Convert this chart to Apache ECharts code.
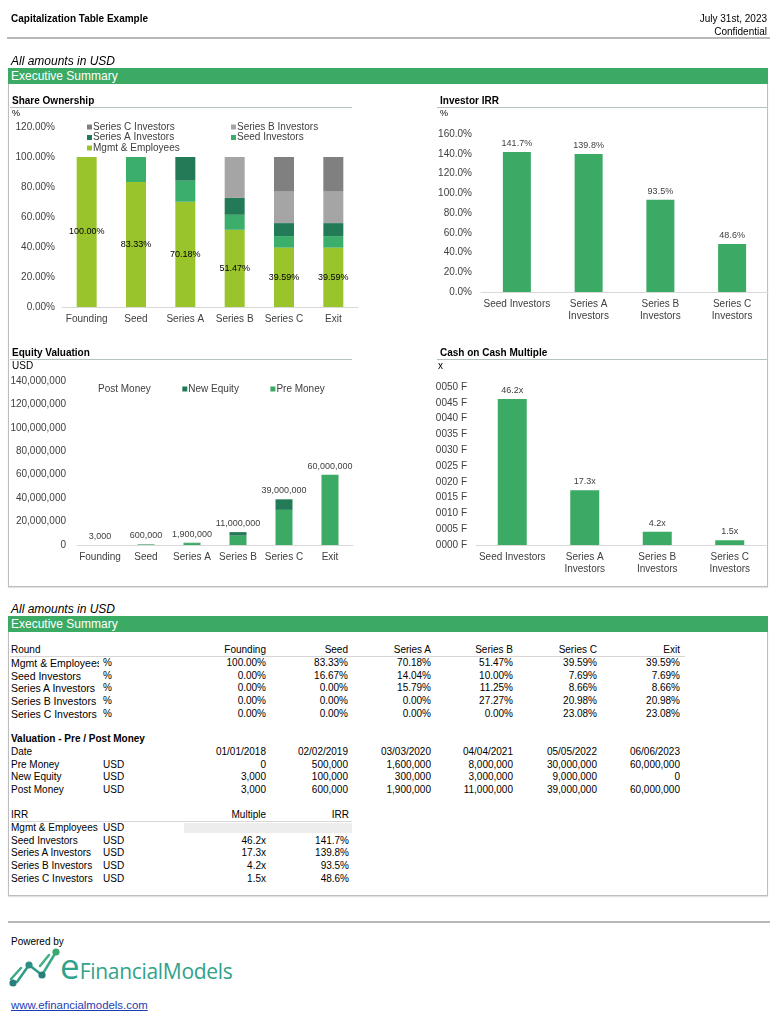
<!DOCTYPE html>
<html>
<head>
<meta charset="utf-8">
<script src="https://cdn.jsdelivr.net/npm/echarts@6/dist/echarts.min.js"></script>
<style>
body { margin: 0; background: #fff; }
#page { position: relative; width: 777px; height: 1024px; overflow: hidden; font-family: "Liberation Sans", Arial, sans-serif; color: #000; }
#chart { position: absolute; left: 0; top: 0; width: 777px; height: 600px; z-index: 1; }
.t { position: absolute; font-size: 10px; line-height: 12px; white-space: nowrap; z-index: 2; }
.r { transform: translateX(-100%); }
.b { font-weight: bold; }
.line { position: absolute; height: 0; z-index: 2; }
.green { position: absolute; left: 8px; width: 760px; height: 16px; background: #3BAA64; color: #fff; font-size: 12px; line-height: 16px; padding-left: 3px; box-sizing: border-box; }
.box { position: absolute; left: 8px; width: 760px; border: 1px solid #BDBDBD; border-top: none; box-sizing: border-box; box-shadow: 0 1px 1px #e2e2e2; }
.it { font-style: italic; font-size: 12px; line-height: 14px; }
</style>
</head>
<body>
<div id="page">
  <div id="chart"></div>
</div>
<script>
// round data
var rounds = ['Founding', 'Seed', 'Series A', 'Series B', 'Series C', 'Exit'];
var roundDates = ['01/01/2018', '02/02/2019', '03/03/2020', '04/04/2021', '05/05/2022', '06/06/2023'];

// share ownership, %
var mgmtPct = [100.00, 83.33, 70.18, 51.47, 39.59, 39.59];
var seedPct = [0.00, 16.67, 14.04, 10.00, 7.69, 7.69];
var seriesAPct = [0.00, 0.00, 15.79, 11.25, 8.66, 8.66];
var seriesBPct = [0.00, 0.00, 0.00, 27.27, 20.98, 20.98];
var seriesCPct = [0.00, 0.00, 0.00, 0.00, 23.08, 23.08];

// valuation, USD
var preMoney = [0, 500000, 1600000, 8000000, 30000000, 60000000];
var newEquity = [3000, 100000, 300000, 3000000, 9000000, 0];
var postMoney = [3000, 600000, 1900000, 11000000, 39000000, 60000000];

// investor returns
var investors = ['Seed Investors', 'Series A Investors', 'Series B Investors', 'Series C Investors'];
var multiples = [46.2, 17.3, 4.2, 1.5];
var irr = [141.7, 139.8, 93.5, 48.6];

var holders = ['Mgmt & Employees', 'Seed Investors', 'Series A Investors', 'Series B Investors', 'Series C Investors'];
var ownership = [mgmtPct, seedPct, seriesAPct, seriesBPct, seriesCPct];

var page = document.getElementById('page');

function txt(s, x, cy, cls, extra) {
    var d = document.createElement('div');
    d.className = 't ' + (cls || '');
    d.textContent = s;
    d.style.left = x + 'px';
    d.style.top = (cy - 6) + 'px';
    if (extra) Object.assign(d.style, extra);
    page.appendChild(d);
    return d;
}
function hline(x, y, w, color, size) {
    var d = document.createElement('div');
    d.className = 'line';
    d.style.left = x + 'px';
    d.style.top = y + 'px';
    d.style.width = w + 'px';
    d.style.borderTop = (size || 1) + 'px solid ' + color;
    page.appendChild(d);
}
function block(cls, top, h, text) {
    var d = document.createElement('div');
    d.className = cls;
    d.style.top = top + 'px';
    if (h) d.style.height = h + 'px';
    if (text) d.textContent = text;
    page.appendChild(d);
}
function fmtNum(v) { return v.toLocaleString('en-US'); }

// header
txt('Capitalization Table Example', 11, 19, 'b');
txt('July 31st, 2023', 767, 19, 'r');
txt('Confidential', 767, 32, 'r');
hline(7, 37, 763, '#B8B8B8', 2);

// section 1
txt('All amounts in USD', 11, 60, 'it');
block('green', 68, 16, 'Executive Summary');
block('box', 84, 503);

txt('Share Ownership', 12, 101, 'b');
hline(10, 107, 342, '#B5C2BA');
txt('%', 12, 113, '', {fontSize: '9px'});
txt('Investor IRR', 440, 101, 'b');
hline(437, 107, 331, '#B5C2BA');
txt('%', 440, 113, '', {fontSize: '9px'});
txt('Equity Valuation', 12, 353, 'b');
hline(10, 359, 342, '#B5C2BA');
txt('USD', 12, 366);
txt('Cash on Cash Multiple', 440, 353, 'b');
hline(437, 359, 331, '#B5C2BA');
txt('x', 438, 366);

// section 2
txt('All amounts in USD', 11, 608, 'it');
block('green', 616, 16, 'Executive Summary');
block('box', 632, 264);

var cols = [266, 348, 431, 513, 597, 680];
var step = 12.65;

// ownership table (label column is narrow in the sheet, names get cut)
txt('Round', 11, 650);
rounds.forEach(function (r, j) { txt(r, cols[j], 650, 'r'); });
hline(10, 656, 675, '#D6D6D6');
holders.forEach(function (h, i) {
    var y = 663 + i * step;
    txt(h, 11, y, '', {width: '88px', overflow: 'hidden', fontSize: '10.5px'});
    txt('%', 103, y);
    ownership[i].forEach(function (v, j) { txt(v.toFixed(2) + '%', cols[j], y, 'r'); });
});

// valuation table
txt('Valuation - Pre / Post Money', 11, 739, 'b');
txt('Date', 11, 752);
roundDates.forEach(function (d, j) { txt(d, cols[j], 752, 'r'); });
[['Pre Money', preMoney], ['New Equity', newEquity], ['Post Money', postMoney]].forEach(function (row, i) {
    var y = 752 + (i + 1) * step;
    txt(row[0], 11, y);
    txt('USD', 103, y);
    row[1].forEach(function (v, j) { txt(fmtNum(v), cols[j], y, 'r'); });
});

// irr table
txt('IRR', 11, 815);
txt('Multiple', 266, 815, 'r');
txt('IRR', 349, 815, 'r');
hline(10, 821, 342, '#D6D6D6');
var gray = document.createElement('div');
Object.assign(gray.style, {position: 'absolute', left: '184px', top: '823px', width: '168px', height: '10px', background: '#EDEDED', zIndex: 1});
page.appendChild(gray);
txt('Mgmt & Employees', 11, 828);
txt('USD', 103, 828);
investors.forEach(function (n, i) {
    var y = 828 + (i + 1) * step;
    txt(n, 11, y);
    txt('USD', 103, y);
    txt(multiples[i].toFixed(1) + 'x', 266, y, 'r');
    txt(irr[i].toFixed(1) + '%', 349, y, 'r');
});

// footer
hline(8, 921, 762, '#B8B8B8', 2);
txt('Powered by', 11, 942);
var logo = document.createElement('div');
logo.style.cssText = 'position:absolute;left:8px;top:946px;width:240px;height:44px;z-index:2';
logo.innerHTML =
    '<svg width="52" height="44" style="position:absolute;left:0;top:0">' +
    '<g stroke-linecap="round">' +
    '<line x1="3" y1="33" x2="13" y2="22" stroke="#3aa98a" stroke-width="2.5"/>' +
    '<line x1="9" y1="36" x2="21" y2="19" stroke="#2f9b86" stroke-width="2.5"/>' +
    '<line x1="21" y1="19" x2="34" y2="29" stroke="#2f9b86" stroke-width="2.5"/>' +
    '<line x1="34" y1="29" x2="48" y2="6" stroke="#3aa98a" stroke-width="2.5"/>' +
    '<line x1="32" y1="20" x2="41" y2="9" stroke="#46b07f" stroke-width="2.5"/>' +
    '</g>' +
    '<circle cx="5" cy="37" r="3.6" fill="#2a7f7d"/>' +
    '<circle cx="21" cy="19" r="3.6" fill="#2d8f84"/>' +
    '<circle cx="34" cy="29" r="3.6" fill="#2a7f7d"/>' +
    '<circle cx="48" cy="6" r="3.6" fill="#3aa86f"/>' +
    '</svg>' +
    '<div style="position:absolute;left:52px;top:0px;font-family:\'Open Sans\',sans-serif;color:#31A28B;white-space:nowrap;line-height:40px">' +
    '<span style="font-size:35px">e</span><span style="font-size:21px;letter-spacing:-0.3px">FinancialModels</span></div>';
page.appendChild(logo);
txt('www.efinancialmodels.com', 11, 1005, '', {fontSize: '11.4px', color: '#1C3DAF', textDecoration: 'underline'});

// charts
var chart = echarts.init(document.getElementById('chart'));
var font = 'Liberation Sans, Arial, sans-serif';
var axisText = {color: '#404040', fontSize: 10, fontFamily: font};
var green = '#3BAA64', dark = '#237A57';

function catAxis(grid, data) {
    return {
        type: 'category', gridIndex: grid, data: data,
        axisLine: {show: true, lineStyle: {color: '#D9D9D9'}},
        axisTick: {show: false},
        axisLabel: Object.assign({}, axisText, {
            margin: 6, interval: 0, lineHeight: 12,
            formatter: function (s) { return s.replace(/^(Series \w) /, '$1\n'); }
        })
    };
}
function valAxis(grid, max, interval, margin, fmt) {
    return {
        type: 'value', gridIndex: grid, min: 0, max: max, interval: interval,
        splitLine: {show: false}, axisLine: {show: false}, axisTick: {show: false},
        axisLabel: Object.assign({}, axisText, {margin: margin, formatter: fmt})
    };
}
var dataLabel = {show: true, position: 'top', distance: 4, color: '#404040', fontSize: 9, fontFamily: font};
var colorsOwn = ['#9AC42C', '#3CAE6B', '#227A57', '#A5A5A5', '#808080'];

var series = holders.map(function (h, i) {
    return {
        name: h, type: 'bar', stack: 'own', xAxisIndex: 0, yAxisIndex: 0, barWidth: 20,
        data: ownership[i], itemStyle: {color: colorsOwn[i]},
        label: i === 0 ? {show: true, position: 'inside', color: '#000', fontSize: 9, fontFamily: font,
            formatter: function (p) { return p.value.toFixed(2) + '%'; }} : {show: false}
    };
});
series.push({
    name: 'IRR', type: 'bar', xAxisIndex: 1, yAxisIndex: 1, barWidth: 28,
    data: irr, itemStyle: {color: green},
    label: Object.assign({}, dataLabel, {formatter: function (p) { return p.value.toFixed(1) + '%'; }})
});
series.push({
    name: 'Post Money', type: 'bar', xAxisIndex: 2, yAxisIndex: 2, barWidth: 17, barGap: '-100%', z: 1,
    data: postMoney, itemStyle: {color: 'rgba(0,0,0,0)'},
    label: Object.assign({}, dataLabel, {formatter: function (p) { return fmtNum(p.value); }})
});
series.push({
    name: 'Pre Money', type: 'bar', stack: 'val', xAxisIndex: 2, yAxisIndex: 2, barWidth: 17, barGap: '-100%',
    data: preMoney, itemStyle: {color: green}
});
series.push({
    name: 'New Equity', type: 'bar', stack: 'val', xAxisIndex: 2, yAxisIndex: 2, barWidth: 17, barGap: '-100%',
    data: newEquity, itemStyle: {color: dark}
});
series.push({
    name: 'Multiple', type: 'bar', xAxisIndex: 3, yAxisIndex: 3, barWidth: 29,
    data: multiples, itemStyle: {color: green},
    label: Object.assign({}, dataLabel, {formatter: function (p) { return p.value.toFixed(1) + 'x'; }})
});

var legendText = {color: '#404040', fontSize: 10, fontFamily: font, lineHeight: 10, padding: [0, 0, 0, -4]};
var legendBase = {padding: 0, itemWidth: 5, itemHeight: 5, icon: 'rect', textStyle: legendText};
var option = {
    animation: false,
    grid: [
        {left: 62, top: 127, width: 296, height: 180},
        {left: 481, top: 134, width: 287, height: 158},
        {left: 77, top: 381, width: 276, height: 164},
        {left: 476, top: 387, width: 290, height: 158}
    ],
    xAxis: [catAxis(0, rounds), catAxis(1, investors), catAxis(2, rounds), catAxis(3, investors)],
    yAxis: [
        valAxis(0, 120, 20, 7, function (v) { return v.toFixed(2) + '%'; }),
        valAxis(1, 160, 20, 9, function (v) { return v.toFixed(1) + '%'; }),
        valAxis(2, 140000000, 20000000, 11, fmtNum),
        valAxis(3, 50, 5, 9, function (v) { return String(v).padStart(4, '0') + ' F'; })
    ],
    legend: [
        Object.assign({left: 87, top: 122, orient: 'vertical', itemGap: 0.5,
            data: ['Series C Investors', 'Series A Investors', 'Mgmt & Employees']}, legendBase),
        Object.assign({left: 231, top: 122, orient: 'vertical', itemGap: 0.5,
            data: ['Series B Investors', 'Seed Investors']}, legendBase),
        Object.assign({left: 92, top: 384, orient: 'horizontal', itemGap: 31.5,
            data: ['Post Money', 'New Equity', 'Pre Money']}, legendBase)
    ],
    series: series
};
chart.setOption(option);
</script>
</body>
</html>
